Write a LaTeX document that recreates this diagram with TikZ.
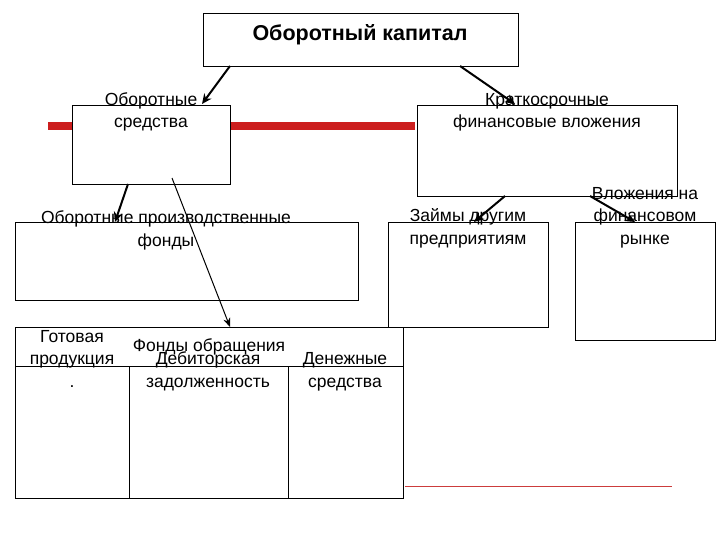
\documentclass[tikz,border=0pt]{standalone}
\usepackage{fontspec}
\setmainfont{Liberation Sans}
\usetikzlibrary{arrows.meta}
\begin{document}
\begin{tikzpicture}[x=1pt,y=-1pt,
 box/.style={draw=black,fill=white,line width=0.9pt},
 lbl/.style={align=center,font=\fontsize{17.5}{22.5}\selectfont,anchor=base,inner sep=0pt},
 arr/.style={-{Stealth[length=10pt,width=9pt]},line width=2pt},
 thinarr/.style={-{Stealth[length=9pt,width=7pt]},line width=1pt}]
\useasboundingbox (0,0) rectangle (720,540);
\fill[white] (0,0) rectangle (720,540);
\draw[line width=8pt,color={rgb,255:red,204;green,30;blue,30}] (48,126) -- (415,126);
\draw[line width=1pt,color={rgb,255:red,204;green,60;blue,60}] (405,486) -- (672,486);
\draw[box] (203,13) rectangle (518,66);
\node[lbl,font=\fontsize{21.5}{26}\selectfont\bfseries] (top) at (360,41) {Оборотный капитал};
\draw[box] (72,105) rectangle (230,184);
\node[lbl] (os) at (151,128) {Оборотные\\средства};
\draw[box] (417,105) rectangle (677,196);
\node[lbl] (kf) at (547,128) {Краткосрочные\\финансовые вложения};
\draw[box] (15,222) rectangle (358,300);
\node[lbl] (opf) at (166,246) {Оборотные производственные\\фонды};
\draw[box] (388,222) rectangle (548,327);
\node[lbl] (zd) at (468,244) {Займы другим\\предприятиям};
\draw[box] (575,222) rectangle (715,340);
\node[lbl] (vf) at (645,244) {Вложения на\\финансовом\\рынке};
\draw[box] (15,327) rectangle (403,498);
\node[lbl] (fo) at (209,351) {Фонды обращения};
\draw[box] (15,366) rectangle (129,498);
\draw[box] (129,366) rectangle (288,498);
\draw[box] (288,366) rectangle (403,498);
\node[lbl] (gp) at (72,387) {Готовая\\продукция\\.};
\node[lbl] (dz) at (208,387) {Дебиторская\\задолженность};
\node[lbl] (ds) at (345,387) {Денежные\\средства};
\coordinate (a1) at (230,66); \coordinate (b1) at (202,104);
\coordinate (a2) at (460,66); \coordinate (b2) at (515,104);
\coordinate (a3) at (128,184); \coordinate (b3) at (115,222);
\coordinate (a4) at (172,178); \coordinate (b4) at (230,327);
\coordinate (a5) at (505,196); \coordinate (b5) at (474,222);
\coordinate (a6) at (590,196); \coordinate (b6) at (635,222);
\draw[arr] (a1) -- (b1);
\draw[arr] (a2) -- (b2);
\draw[arr] (a3) -- (b3);
\draw[thinarr] (a4) -- (b4);
\draw[arr] (a5) -- (b5);
\draw[arr] (a6) -- (b6);
\end{tikzpicture}
\end{document}
